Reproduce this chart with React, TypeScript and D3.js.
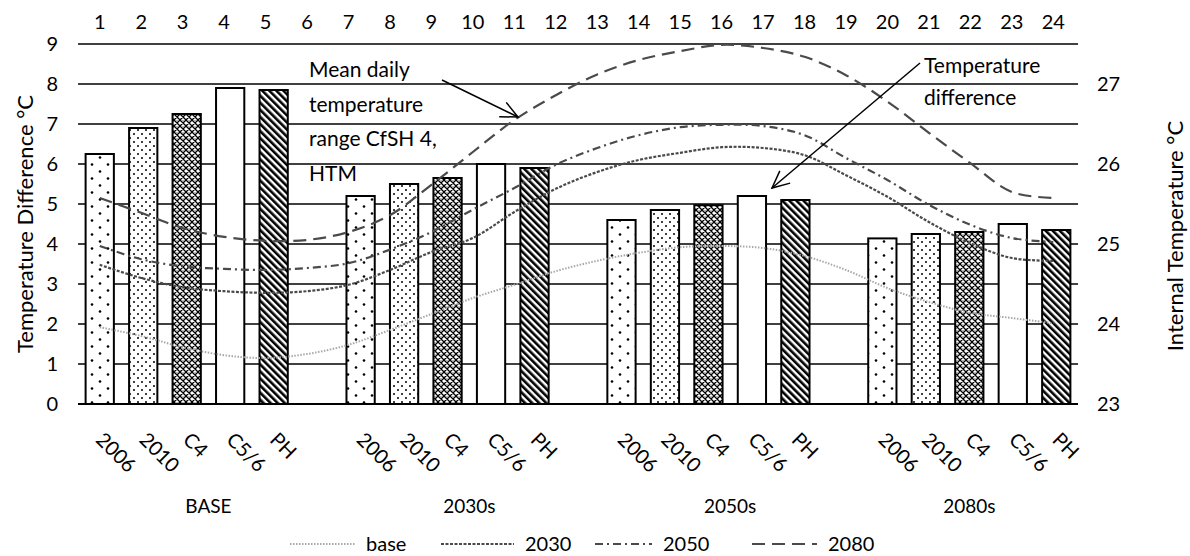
import { useEffect, useRef } from 'react';
import * as d3 from 'd3';

// bottom axis: scenario groups and building variants
const groups = ['BASE', '2030s', '2050s', '2080s'];
const variants = ['2006', '2010', 'C4', 'C5/6', 'PH'];

// temperature difference (left axis), one row per group
const diffBase = [6.25, 6.9, 7.25, 7.9, 7.85];
const diff2030 = [5.2, 5.5, 5.65, 6.0, 5.9];
const diff2050 = [4.6, 4.85, 4.97, 5.2, 5.1];
const diff2080 = [4.14, 4.25, 4.3, 4.5, 4.35];

// hours on top axis
const hours = [1, 2, 3, 4, 5, 6, 7, 8, 9, 10, 11, 12, 13, 14, 15, 16, 17, 18, 19, 20, 21, 22, 23, 24];

// internal temperature (right axis)
const tempBase = [23.96, 23.85, 23.71, 23.61, 23.575, 23.625, 23.74, 23.925, 24.125, 24.325, 24.49, 24.66,
    24.79, 24.89, 24.96, 24.975, 24.95, 24.85, 24.675, 24.45, 24.275, 24.14, 24.075, 24.01];
const temp2030 = [24.74, 24.575, 24.46, 24.41, 24.39, 24.41, 24.49, 24.675, 24.9, 25.075, 25.4, 25.69,
    25.9, 26.05, 26.14, 26.21, 26.2, 26.11, 25.86, 25.59, 25.275, 25.01, 24.825, 24.79];
const temp2050 = [24.975, 24.81, 24.72, 24.69, 24.675, 24.7, 24.76, 24.93, 25.15, 25.43, 25.7, 25.99,
    26.2, 26.36, 26.46, 26.49, 26.475, 26.36, 26.075, 25.8, 25.49, 25.24, 25.075, 25.025];
const temp2080 = [25.575, 25.39, 25.2, 25.09, 25.04, 25.05, 25.15, 25.36, 25.74, 26.15, 26.55, 26.86,
    27.12, 27.3, 27.41, 27.49, 27.45, 27.34, 27.11, 26.78, 26.39, 26.01, 25.65, 25.575];

const leftTicks = [0, 1, 2, 3, 4, 5, 6, 7, 8, 9];
const rightTicks = [23, 24, 25, 26, 27];

const lineNames = ['base', '2030', '2050', '2080'];

const FONT = 'Lato, sans-serif';

export default function App() {
    const svgRef = useRef(null);

    useEffect(() => {
        const svg = d3.select(svgRef.current);
        svg.selectAll('*').remove();

        const width = 1190;
        const height = 556;
        const left = 78, right = 1078, top = 44, bottom = 404;

        svg.attr('width', width).attr('height', height);

        const diffs = [diffBase, diff2030, diff2050, diff2080];
        const temps = [tempBase, temp2030, temp2050, temp2080];

        // slots: 5 bars per group with an empty slot between groups
        const slots: string[] = [];
        groups.forEach((g, gi) => {
            variants.forEach((v) => slots.push(`${g}|${v}`));
            if (gi < groups.length - 1) slots.push(`gap${gi}`);
        });
        const bars = groups.flatMap((g, gi) => variants.map((v, vi) => ({ key: `${g}|${v}`, v, vi, value: diffs[gi][vi] })));

        const xScale = d3.scaleBand().domain(slots).range([left, right]).paddingInner(0.35).paddingOuter(0.175);
        const xTop = d3.scaleBand().domain(hours.map(String)).range([79, 1074]);
        const yLeft = d3.scaleLinear().domain([0, 9]).range([bottom, top]);
        const yRight = d3.scaleLinear().domain([23, 27.5]).range([bottom, top]);

        // patterns
        const defs = svg.append('defs');
        const p1 = defs.append('pattern').attr('id', 'p2006').attr('patternUnits', 'userSpaceOnUse')
            .attr('width', 16).attr('height', 14);
        p1.append('rect').attr('width', 16).attr('height', 14).attr('fill', '#fff');
        p1.append('circle').attr('cx', 4).attr('cy', 3.5).attr('r', 1.3).attr('fill', '#000');
        p1.append('circle').attr('cx', 12).attr('cy', 10.5).attr('r', 1.3).attr('fill', '#000');

        const p2 = defs.append('pattern').attr('id', 'p2010').attr('patternUnits', 'userSpaceOnUse')
            .attr('width', 8).attr('height', 8);
        p2.append('rect').attr('width', 8).attr('height', 8).attr('fill', '#fff');
        p2.append('circle').attr('cx', 2).attr('cy', 2).attr('r', 1).attr('fill', '#000');
        p2.append('circle').attr('cx', 6).attr('cy', 6).attr('r', 1).attr('fill', '#000');

        const p3 = defs.append('pattern').attr('id', 'pC4').attr('patternUnits', 'userSpaceOnUse')
            .attr('width', 6).attr('height', 6);
        p3.append('rect').attr('width', 6).attr('height', 6).attr('fill', '#fff');
        p3.append('path').attr('d', 'M0,0L6,6M6,0L0,6M-1,5L1,7M5,-1L7,1M-1,1L1,-1M5,7L7,5')
            .attr('stroke', '#000').attr('stroke-width', 1.3);
        p3.append('circle').attr('cx', 3).attr('cy', 0).attr('r', 0.6).attr('fill', '#000');

        const p5 = defs.append('pattern').attr('id', 'pPH').attr('patternUnits', 'userSpaceOnUse')
            .attr('width', 5).attr('height', 5).attr('patternTransform', 'rotate(-45)');
        p5.append('rect').attr('width', 5).attr('height', 5).attr('fill', '#fff');
        p5.append('rect').attr('width', 2.6).attr('height', 5).attr('fill', '#000');

        const fills = ['url(#p2006)', 'url(#p2010)', 'url(#pC4)', '#fff', 'url(#pPH)'];

        defs.append('marker').attr('id', 'arrow').attr('markerUnits', 'userSpaceOnUse')
            .attr('viewBox', '-20 -10 22 20').attr('refX', 0).attr('refY', 0)
            .attr('markerWidth', 22).attr('markerHeight', 20).attr('orient', 'auto')
            .append('path').attr('d', 'M-17,-8L0,0L-17,8').attr('fill', 'none')
            .attr('stroke', '#000').attr('stroke-width', 1.5);

        // gridlines
        svg.append('g').selectAll('line').data(leftTicks).join('line')
            .attr('x1', left).attr('x2', right)
            .attr('y1', (d) => yLeft(d)).attr('y2', (d) => yLeft(d))
            .attr('stroke', '#000').attr('stroke-width', (d) => (d === 0 ? 2 : 1.6));

        // bars
        svg.append('g').selectAll('rect').data(bars).join('rect')
            .attr('x', (d) => xScale(d.key))
            .attr('y', (d) => yLeft(d.value))
            .attr('width', xScale.bandwidth())
            .attr('height', (d) => yLeft(0) - yLeft(d.value))
            .attr('fill', (d) => fills[d.vi])
            .attr('stroke', '#000').attr('stroke-width', 2);

        // lines
        const styles = [
            { stroke: '#a8a8a8', dash: '1.5,1.5', w: 2 },
            { stroke: '#4a4a4a', dash: '3,1.5', w: 2.2 },
            { stroke: '#4a4a4a', dash: '8,4,2,4', w: 2.2 },
            { stroke: '#4a4a4a', dash: '13,7', w: 2.2 },
        ];
        const line = d3.line<number>()
            .x((d, i) => xTop(String(hours[i])) + xTop.bandwidth() / 2)
            .y((d) => yRight(d))
            .curve(d3.curveCatmullRom.alpha(0.5));
        svg.append('g').selectAll('path').data(temps).join('path')
            .attr('d', (d) => line(d))
            .attr('fill', 'none')
            .attr('stroke', (d, i) => styles[i].stroke)
            .attr('stroke-width', (d, i) => styles[i].w)
            .attr('stroke-dasharray', (d, i) => styles[i].dash);

        const txt = svg.append('g').attr('font-family', FONT).attr('fill', '#000');

        // left axis labels
        txt.append('g').selectAll('text').data(leftTicks).join('text')
            .attr('x', 58).attr('y', (d) => yLeft(d)).attr('dy', '0.36em')
            .attr('text-anchor', 'end').attr('font-size', 20).text((d) => d);

        // right axis labels
        txt.append('g').selectAll('text').data(rightTicks).join('text')
            .attr('x', 1097).attr('y', (d) => yRight(d)).attr('dy', '0.36em')
            .attr('font-size', 20).text((d) => d);

        // top axis labels
        txt.append('g').selectAll('text').data(hours).join('text')
            .attr('x', (d) => xTop(String(d)) + xTop.bandwidth() / 2).attr('y', 29)
            .attr('text-anchor', 'middle').attr('font-size', 20).text((d) => d);

        // rotated category labels
        txt.append('g').selectAll('text').data(bars).join('text')
            .attr('transform', (d) => `translate(${xScale(d.key) + xScale.bandwidth() / 2 - 5},${441}) rotate(45)`)
            .attr('font-size', 20).text((d) => d.v);

        // group labels
        txt.append('g').selectAll('text').data(groups).join('text')
            .attr('x', (g) => {
                const own = slots.filter((s) => s.startsWith(g + '|'));
                const gi = groups.indexOf(g);
                const last = gi < groups.length - 1 ? `gap${gi}` : own[own.length - 1];
                return (xScale(own[0]) + xScale(last) + xScale.bandwidth()) / 2;
            })
            .attr('y', 513).attr('text-anchor', 'middle').attr('font-size', 19).text((d) => d);

        // axis titles
        txt.append('text').attr('transform', 'translate(33,224) rotate(-90)')
            .attr('text-anchor', 'middle').attr('font-size', 22).text('Temperature Difference °C');
        txt.append('text').attr('transform', 'translate(1183,236) rotate(-90)')
            .attr('text-anchor', 'middle').attr('font-size', 22).text('Internal Temperature °C');

        // annotations
        const ann1 = ['Mean daily', 'temperature', 'range CfSH 4,', 'HTM'];
        txt.append('g').selectAll('text').data(ann1).join('text')
            .attr('x', 309).attr('y', (d, i) => 77 + i * 34.7).attr('font-size', 21).text((d) => d);
        const ann2 = ['Temperature', 'difference'];
        txt.append('g').selectAll('text').data(ann2).join('text')
            .attr('x', 924).attr('y', (d, i) => 73 + i * 32).attr('font-size', 21).text((d) => d);

        svg.append('line').attr('x1', 442).attr('y1', 80).attr('x2', 518).attr('y2', 117)
            .attr('stroke', '#000').attr('stroke-width', 1.5).attr('marker-end', 'url(#arrow)');
        svg.append('line').attr('x1', 920).attr('y1', 63).attr('x2', 772).attr('y2', 188)
            .attr('stroke', '#000').attr('stroke-width', 1.5).attr('marker-end', 'url(#arrow)');

        // legend
        const legendX = [290, 441, 595, 752];
        const legendLen = [65, 73, 57, 65];
        const lg = svg.append('g');
        lineNames.forEach((name, i) => {
            lg.append('line').attr('x1', legendX[i]).attr('x2', legendX[i] + legendLen[i])
                .attr('y1', 544).attr('y2', 544)
                .attr('stroke', styles[i].stroke).attr('stroke-width', styles[i].w)
                .attr('stroke-dasharray', styles[i].dash);
            lg.append('text').attr('x', legendX[i] + legendLen[i] + 11).attr('y', 551)
                .attr('font-family', FONT).attr('font-size', 20).text(name);
        });
    }, []);

    return (
        <svg ref={svgRef} style={{ position: 'absolute', left: 0, top: 0, background: '#fff' }} />
    );
}
